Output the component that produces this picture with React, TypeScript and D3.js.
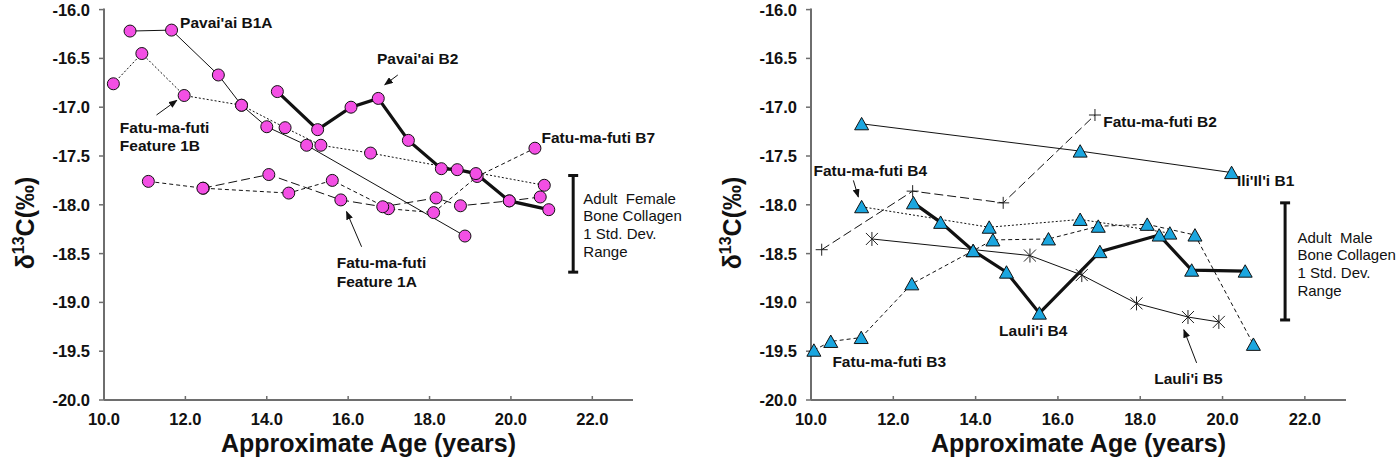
import * as d3 from "d3"

// axis ticks (same for both panels)
const xTicks = [10, 12, 14, 16, 18, 20, 22]
const xTickLabels = ["10.0", "12.0", "14.0", "16.0", "18.0", "20.0", "22.0"]
const yTicks = [-16, -16.5, -17, -17.5, -18, -18.5, -19, -19.5, -20]
const yTickLabels = ["-16.0", "-16.5", "-17.0", "-17.5", "-18.0", "-18.5", "-19.0", "-19.5", "-20.0"]

// left panel: females (age in years, d13C permil)
const pavaiaiB1A_age = [10.64, 11.66, 12.81, 13.38, 14.0, 14.98, 18.87]
const pavaiaiB1A_d13c = [-16.22, -16.21, -16.67, -16.98, -17.2, -17.39, -18.32]
const pavaiaiB2_age = [14.26, 15.25, 16.07, 16.74, 17.48, 18.29, 18.68, 19.14, 19.96, 20.93]
const pavaiaiB2_d13c = [-16.84, -17.23, -17.0, -16.91, -17.34, -17.63, -17.64, -17.68, -17.96, -18.05]
const feature1B_age = [10.23, 10.93, 11.97, 13.38, 14.45, 15.33, 16.55, 20.82]
const feature1B_d13c = [-16.76, -16.45, -16.88, -16.98, -17.21, -17.39, -17.47, -17.8]
const fatuB7_age = [11.09, 12.44, 14.54, 15.61, 16.99, 18.1, 19.17, 20.59]
const fatuB7_d13c = [-17.76, -17.83, -17.88, -17.75, -18.04, -18.08, -17.71, -17.42]
const feature1A_age = [12.43, 14.05, 15.82, 16.85, 18.16, 18.76, 19.96, 20.72]
const feature1A_d13c = [-17.83, -17.69, -17.95, -18.02, -17.93, -18.01, -17.96, -17.92]
const femaleRange = [-17.7, -18.69]

// right panel: males
const iliiliB1_age = [11.23, 16.54, 20.22]
const iliiliB1_d13c = [-17.17, -17.45, -17.67]
const fatuB2_age = [10.26, 12.47, 14.67, 16.9]
const fatuB2_d13c = [-18.46, -17.86, -17.98, -17.08]
const fatuB4_age = [11.23, 14.33, 16.54, 18.72]
const fatuB4_d13c = [-18.02, -18.23, -18.15, -18.29]
const lauliiB4_age = [12.49, 13.15, 13.94, 14.75, 15.55, 17.02, 18.46, 19.25, 20.55]
const lauliiB4_d13c = [-17.98, -18.18, -18.47, -18.69, -19.11, -18.48, -18.31, -18.67, -18.68]
const lauliiB5_age = [11.48, 15.32, 16.58, 17.91, 19.16, 19.91]
const lauliiB5_d13c = [-18.35, -18.52, -18.72, -19.01, -19.15, -19.2]
const fatuB3_age = [10.07, 10.48, 11.22, 12.45, 13.94, 14.42, 15.77, 16.98, 18.17, 19.33, 20.75]
const fatuB3_d13c = [-19.49, -19.4, -19.36, -18.81, -18.47, -18.36, -18.35, -18.22, -18.2, -18.31, -19.43]
const maleRange = [-17.98, -19.18]

type LineKind = "thin" | "thick" | "dot" | "dash" | "long"
type MarkKind = "circle" | "triangle" | "plus" | "star"
interface Series { age: number[]; d13c: number[]; line: LineKind; mark: MarkKind }
interface Label { lines: string[]; at: [number, number]; bold: boolean }
interface Arrow { from: [number, number]; to: [number, number] }

const FONT = "'Liberation Sans', Arial, sans-serif"
const PINK = "#f34fe4"
const BLUE = "#1ba6df"
const AXIS = "#6e6e6e"

const lineStyle: Record<LineKind, { w: number; dash?: string }> = {
  thin: { w: 1 },
  thick: { w: 3.2 },
  dot: { w: 1, dash: "2,2" },
  dash: { w: 1, dash: "4,3" },
  long: { w: 1, dash: "9,4" },
}

const leftSeries: Series[] = [
  { age: pavaiaiB1A_age, d13c: pavaiaiB1A_d13c, line: "thin", mark: "circle" },
  { age: feature1B_age, d13c: feature1B_d13c, line: "dot", mark: "circle" },
  { age: fatuB7_age, d13c: fatuB7_d13c, line: "dash", mark: "circle" },
  { age: feature1A_age, d13c: feature1A_d13c, line: "long", mark: "circle" },
  { age: pavaiaiB2_age, d13c: pavaiaiB2_d13c, line: "thick", mark: "circle" },
]

const rightSeries: Series[] = [
  { age: iliiliB1_age, d13c: iliiliB1_d13c, line: "thin", mark: "triangle" },
  { age: fatuB2_age, d13c: fatuB2_d13c, line: "long", mark: "plus" },
  { age: fatuB4_age, d13c: fatuB4_d13c, line: "dot", mark: "triangle" },
  { age: fatuB3_age, d13c: fatuB3_d13c, line: "dash", mark: "triangle" },
  { age: lauliiB5_age, d13c: lauliiB5_d13c, line: "thin", mark: "star" },
  { age: lauliiB4_age, d13c: lauliiB4_d13c, line: "thick", mark: "triangle" },
]

const leftLabels: Label[] = [
  { lines: ["Pavai'ai B1A"], at: [11.87, -16.19], bold: true },
  { lines: ["Pavai'ai B2"], at: [16.71, -16.56], bold: true },
  { lines: ["Fatu-ma-futi B7"], at: [20.75, -17.37], bold: true },
  { lines: ["Fatu-ma-futi", "Feature 1B"], at: [10.39, -17.26], bold: true },
  { lines: ["Fatu-ma-futi", "Feature 1A"], at: [15.72, -18.65], bold: true },
  { lines: ["Adult  Female", "Bone Collagen", "1 Std. Dev.", "Range"], at: [21.78, -17.99], bold: false },
]
const leftArrows: Arrow[] = [
  { from: [17.22, -16.67], to: [16.9, -16.77] },
  { from: [11.29, -17.08], to: [11.79, -16.93] },
  { from: [16.33, -18.43], to: [15.96, -18.07] },
]

const rightLabels: Label[] = [
  { lines: ["Fatu-ma-futi B2"], at: [17.1, -17.2], bold: true },
  { lines: ["Ili'Il'i B1"], at: [20.35, -17.81], bold: true },
  { lines: ["Fatu-ma-futi B4"], at: [10.06, -17.71], bold: true },
  { lines: ["Fatu-ma-futi B3"], at: [10.52, -19.66], bold: true },
  { lines: ["Lauli'i B4"], at: [14.57, -19.34], bold: true },
  { lines: ["Lauli'i B5"], at: [18.34, -19.84], bold: true },
  { lines: ["Adult  Male", "Bone Collagen", "1 Std. Dev.", "Range"], at: [21.82, -18.39], bold: false },
]
const rightArrows: Arrow[] = [
  { from: [11.03, -17.75], to: [11.15, -17.92] },
  { from: [19.37, -19.62], to: [19.06, -19.28] },
]

function Marker({ kind, x, y }: { kind: MarkKind; x: number; y: number }) {
  if (kind === "circle")
    return <circle cx={x} cy={y} r={6} fill={PINK} stroke="#111" strokeWidth={1} />
  if (kind === "triangle")
    return <path transform={`translate(${x},${y})`} d="M0,-6.4L7,6L-7,6Z" fill={BLUE} stroke="#111" strokeWidth={1} />
  if (kind === "plus")
    return <path transform={`translate(${x},${y})`} d="M-6,0H6M0,-6V6" stroke="#222" strokeWidth={1} fill="none" />
  return (
    <path transform={`translate(${x},${y})`} d="M0,-7V7M-6,-6L6,6M-6,6L6,-6" stroke="#222" strokeWidth={1} fill="none" />
  )
}

function Panel({ left, series, labels, arrows, range, rangeAge }: {
  left: number; series: Series[]; labels: Label[]; arrows: Arrow[]; range: number[]; rangeAge: number
}) {
  const top = 9.6
  const bottom = 400
  const plotW = left < 400 ? 529 : 535
  const x = d3.scaleLinear().domain([10, 23]).range([left, left + plotW])
  const y = d3.scaleLinear().domain([-20, -16]).range([bottom, top])
  const line = d3.line<[number, number]>().x(d => x(d[0])).y(d => y(d[1]))

  return (
    <g fontFamily={FONT}>
      {/* y axis */}
      <line x1={left} x2={left} y1={top - 1} y2={bottom} stroke={AXIS} strokeWidth={2} />
      {yTicks.map((t, i) => (
        <g key={t}>
          <line x1={left - 5} x2={left} y1={y(t)} y2={y(t)} stroke={AXIS} strokeWidth={1.5} />
          <text x={left - 14} y={y(t) + 6} textAnchor="end" fontSize={16.5} fontWeight="bold" fill="#111">
            {yTickLabels[i]}
          </text>
        </g>
      ))}
      {/* x axis */}
      <line x1={left} x2={left + plotW} y1={bottom} y2={bottom} stroke={AXIS} strokeWidth={2} />
      {xTicks.map((t, i) => (
        <g key={t}>
          <line x1={x(t)} x2={x(t)} y1={bottom - 4} y2={bottom} stroke={AXIS} strokeWidth={1.5} />
          <text x={x(t)} y={425} textAnchor="middle" fontSize={16.5} fontWeight="bold" fill="#111">
            {xTickLabels[i]}
          </text>
        </g>
      ))}
      <text x={left + plotW / 2} y={452} textAnchor="middle" fontSize={25} fontWeight="bold" fill="#111">
        Approximate Age (years)
      </text>
      <text transform={`translate(${left - 70},223) rotate(-90)`} textAnchor="middle" fontSize={25} fontWeight="bold" fill="#111">
        δ<tspan fontSize={16} dy={-10}>13</tspan><tspan dy={10}>C(‰)</tspan>
      </text>

      {/* std dev bracket */}
      <g stroke="#111" strokeWidth={3}>
        <line x1={x(rangeAge)} x2={x(rangeAge)} y1={y(range[0])} y2={y(range[1])} />
        <line x1={x(rangeAge) - 5} x2={x(rangeAge) + 5} y1={y(range[0])} y2={y(range[0])} />
        <line x1={x(rangeAge) - 5} x2={x(rangeAge) + 5} y1={y(range[1])} y2={y(range[1])} />
      </g>

      {/* series lines */}
      {series.map((s, i) => {
        const pts = s.age.map((a, j) => [a, s.d13c[j]] as [number, number])
        const st = lineStyle[s.line]
        return <path key={i} d={line(pts) || ""} fill="none" stroke="#111" strokeWidth={st.w} strokeDasharray={st.dash} />
      })}
      {/* markers */}
      {series.map((s, i) => (
        <g key={i}>
          {s.age.map((a, j) => <Marker key={j} kind={s.mark} x={x(a)} y={y(s.d13c[j])} />)}
        </g>
      ))}

      {/* annotations */}
      {arrows.map((a, i) => (
        <line key={i} x1={x(a.from[0])} y1={y(a.from[1])} x2={x(a.to[0])} y2={y(a.to[1])}
          stroke="#111" strokeWidth={1} markerEnd="url(#arrowhead)" />
      ))}
      {labels.map((l, i) => (
        <text key={i} x={x(l.at[0])} y={y(l.at[1])} fontSize={l.bold ? 15.5 : 15} fontWeight={l.bold ? "bold" : "normal"}
          fill="#111" style={{ whiteSpace: "pre" }}>
          {l.lines.map((t, j) => (
            <tspan key={j} x={x(l.at[0])} dy={j === 0 ? 0 : l.bold ? 18.7 : 17.6}>{t}</tspan>
          ))}
        </text>
      ))}
    </g>
  )
}

export default function App() {
  return (
    <svg width={1400} height={466} style={{ position: "absolute", left: 0, top: 0, background: "#fff" }}>
      <defs>
        <marker id="arrowhead" viewBox="0 0 10 8" refX={9} refY={4} markerWidth={9} markerHeight={7}
          markerUnits="userSpaceOnUse" orient="auto">
          <path d="M0,0L10,4L0,8Z" fill="#111" />
        </marker>
      </defs>
      <rect width={1400} height={466} fill="#fff" />
      <Panel left={104} series={leftSeries} labels={leftLabels} arrows={leftArrows} range={femaleRange} rangeAge={21.53} />
      <Panel left={811} series={rightSeries} labels={rightLabels} arrows={rightArrows} range={maleRange} rangeAge={21.52} />
    </svg>
  )
}
